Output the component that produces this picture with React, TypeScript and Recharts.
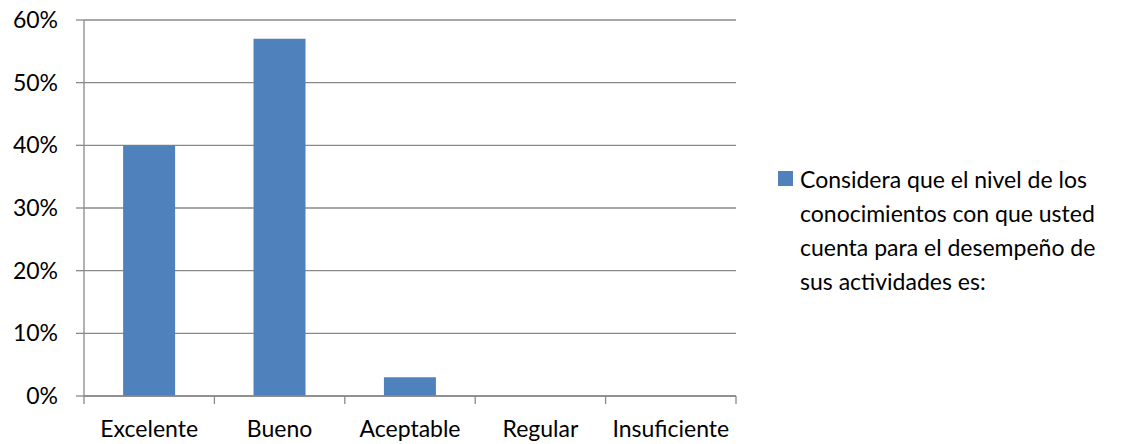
import React from 'react'
import {
  BarChart,
  Bar,
  XAxis,
  YAxis,
  CartesianGrid,
  Legend
} from 'recharts'

const categories = ['Excelente', 'Bueno', 'Aceptable', 'Regular', 'Insuficiente']
const values = [0.4, 0.57, 0.03, 0, 0]
const yTicks = [0, 0.1, 0.2, 0.3, 0.4, 0.5, 0.6]
const seriesName =
  'Considera que el nivel de los conocimientos con que usted cuenta para el desempeño de sus actividades es:'

const data = categories.map((name, i) => ({ name, value: values[i] }))

const FONT = 'Lato, "Open Sans", sans-serif'
const FONT_SIZE = 23
const AXIS_GRAY = '#898989'
const BAR_BLUE = '#4F81BD'

if (typeof document !== 'undefined') {
  document.body.style.margin = '0'
}

// label centred on the band, tick marks on the band edges
const CategoryTick = (props: any) => {
  const { x, y, payload, index } = props
  const half = payload.offset ?? 0
  const isLast = index === categories.length - 1
  return (
    <g>
      <line x1={x - half} x2={x - half} y1={y} y2={y + 8} stroke={AXIS_GRAY} strokeWidth={1.3} />
      {isLast && (
        <line x1={x + half} x2={x + half} y1={y} y2={y + 8} stroke={AXIS_GRAY} strokeWidth={1.3} />
      )}
      <text
        x={x}
        y={y + 25}
        dy="0.71em"
        textAnchor="middle"
        fill="#000"
        fontSize={FONT_SIZE}
        fontFamily={FONT}
      >
        {payload.value}
      </text>
    </g>
  )
}

const renderLegend = () => (
  <div style={{ display: 'flex', alignItems: 'flex-start', fontFamily: FONT }}>
    <span
      style={{
        display: 'inline-block',
        width: 15,
        height: 15,
        background: BAR_BLUE,
        marginTop: 9,
        marginRight: 7,
        flexShrink: 0
      }}
    />
    <span style={{ fontSize: FONT_SIZE, lineHeight: '34px', color: '#000', width: 318 }}>{seriesName}</span>
  </div>
)

const App: React.FC = () => {
  return (
    <div style={{ width: 1124, height: 444, background: '#fff' }}>
      <BarChart
        width={1124}
        height={444}
        data={data}
        margin={{ top: 20, right: 388, bottom: 0, left: 0 }}
        barCategoryGap="30%"
      >
        <CartesianGrid vertical={false} stroke={AXIS_GRAY} strokeWidth={1.3} />
        <XAxis
          dataKey="name"
          tickLine={false}
          tickSize={0}
          tickMargin={0}
          axisLine={{ stroke: AXIS_GRAY, strokeWidth: 1.3 }}
          tick={<CategoryTick />}
          interval={0}
          height={48}
        />
        <YAxis
          domain={[0, 0.6]}
          ticks={yTicks}
          tickFormatter={(v: number) => `${Math.round(v * 100)}%`}
          width={84}
          tickSize={8}
          tickMargin={18}
          axisLine={{ stroke: AXIS_GRAY, strokeWidth: 1.3 }}
          tickLine={{ stroke: AXIS_GRAY, strokeWidth: 1.3 }}
          tick={{ fill: '#000', fontSize: FONT_SIZE, fontFamily: FONT }}
        />
        <Legend
          layout="horizontal"
          verticalAlign="middle"
          align="center"
          content={renderLegend}
          wrapperStyle={{ position: 'absolute', left: 778, top: 162, width: 346 }}
        />
        <Bar dataKey="value" name={seriesName} fill={BAR_BLUE} isAnimationActive={false} />
      </BarChart>
    </div>
  )
}

export default App
